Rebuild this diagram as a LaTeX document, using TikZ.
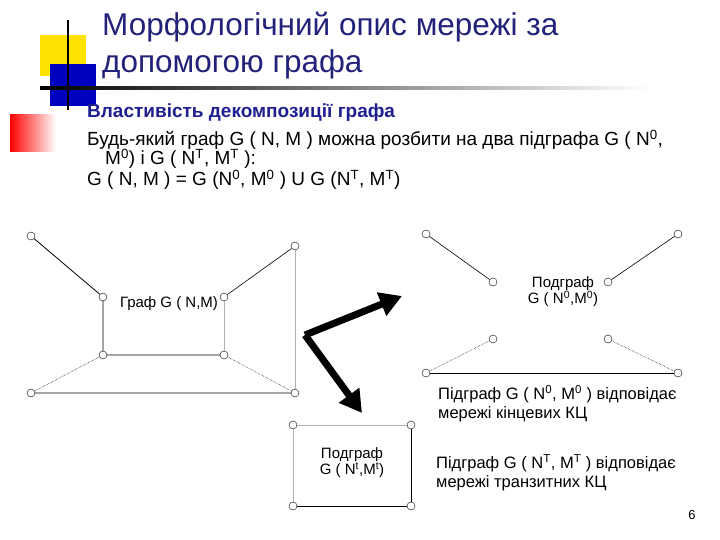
\documentclass[tikz,border=0pt]{standalone}
\usepackage{fontspec}
\setmainfont{Liberation Sans}
\usetikzlibrary{arrows.meta}
\definecolor{ttl}{HTML}{22227A}
\definecolor{sub}{HTML}{1F1F8F}
\tikzset{
 vx/.style={circle,draw,inner sep=0pt,minimum size=8pt,fill=white},
 ed/.style={draw,line width=0.8pt},
 led/.style={draw,gray!60,line width=0.6pt},
 ded/.style={draw,line width=0.5pt,densely dotted},
 lbl/.style={font=\fontsize{15}{16}\selectfont,align=center},
 body/.style={font=\fontsize{19}{20}\selectfont,anchor=west,inner sep=0pt},
 rtxt/.style={font=\fontsize{16.5}{20}\selectfont,align=left,anchor=west,inner sep=0pt},
 bigarr/.style={line width=7pt,-{Triangle[length=22pt,width=24pt]}}
}
\begin{document}
\begin{tikzpicture}[x=1pt,y=-1pt]
\useasboundingbox (0,0) rectangle (720,540);
% decoration
\fill[yellow!85!orange] (40,35) rectangle (86,76);
\fill[blue!75!black] (50,64) rectangle (96,106);
\shade[left color=red,right color=white] (10,115) rectangle (56,152);
\draw[line width=1.5pt] (68,20) -- (68,110);
\shade[left color=black,right color=white] (40,87) rectangle (650,90);
% title
\node[anchor=west,text=ttl,font=\fontsize{31.5}{37}\selectfont,align=left,inner sep=0pt] (title) at (102,46) {Морфологічний опис мережі за\\допомогою графа};
\node[anchor=west,text=sub,font=\bfseries\fontsize{19}{20}\selectfont,inner sep=0pt] (sub) at (87,113) {Властивість декомпозиції графа};
\node[body] (l1) at (87,140) {Будь-який граф G ( N, M ) можна розбити на два підграфа  G ( N\textsuperscript{0},};
\node[body] (l2) at (105,159) {M\textsuperscript{0}) і  G ( N\textsuperscript{T}, M\textsuperscript{T} ):};
\node[body] (l3) at (87,180) {G ( N, M ) = G (N\textsuperscript{0}, M\textsuperscript{0} ) U G (N\textsuperscript{T}, M\textsuperscript{T})};
% left graph
\node[vx] (a) at (31,236) {}; \node[vx] (b) at (103,297) {};
\node[vx] (c) at (295,246) {}; \node[vx] (d) at (224,297) {};
\node[vx] (e) at (103,355) {}; \node[vx] (f) at (224,355) {};
\node[vx] (g) at (31,393) {}; \node[vx] (h) at (295,393) {};
\path[ed] (a)--(b) (b)--(e) (e)--(f) (g)--(h);
\path[ed,line width=0.6pt] (c)--(d);
\path[led] (d)--(f) (c)--(h);
\path[ded] (e)--(g) (f)--(h);
\node[lbl] (gl) at (169,304) {Граф  G ( N,M)};
% right top subgraph
\node[vx] (p1) at (426,234) {}; \node[vx] (p2) at (493,282) {};
\node[vx] (p3) at (678,234) {}; \node[vx] (p4) at (608,282) {};
\path[ed,line width=0.6pt] (p1)--(p2) (p3)--(p4);
\node[lbl] (s0) at (563,292) {Подграф\\G ( N\textsuperscript{0},M\textsuperscript{0})};
\node[vx] (q1) at (493,339) {}; \node[vx] (q2) at (426,373) {};
\node[vx] (q3) at (608,339) {}; \node[vx] (q4) at (678,373) {};
\path[ded] (q1)--(q2) (q3)--(q4);
\path[ed] (q2)--(q4);
\node[rtxt] (t0a) at (438,394) {Підграф G ( N\textsuperscript{0}, M\textsuperscript{0} ) відповідає};
\node[rtxt] (t0b) at (438,414) {мережі кінцевих КЦ};
\node[rtxt] (tta) at (436,463) {Підграф G ( N\textsuperscript{T}, M\textsuperscript{T} ) відповідає};
\node[rtxt] (ttb) at (436,483) {мережі транзитних КЦ};
% bottom subgraph
\node[vx] (r1) at (293,425) {}; \node[vx] (r2) at (411,425) {};
\node[vx] (r3) at (293,506) {}; \node[vx] (r4) at (411,506) {};
\path[led] (r1)--(r2) (r1)--(r3);
\path[ed] (r2)--(r4) (r3)--(r4);
\node[lbl] (st) at (352,463) {Подграф\\G ( N\textsuperscript{t},M\textsuperscript{t})};
% arrows
\coordinate (k) at (305,335);
\coordinate (ka) at (402,296);
\coordinate (kb) at (362,413);
\draw[bigarr,line join=miter] (k) -- (ka);
\draw[bigarr,line join=miter] (k) -- (kb);
\node[font=\fontsize{13}{14}\selectfont] (pg) at (692,515) {6};
\end{tikzpicture}
\end{document}
